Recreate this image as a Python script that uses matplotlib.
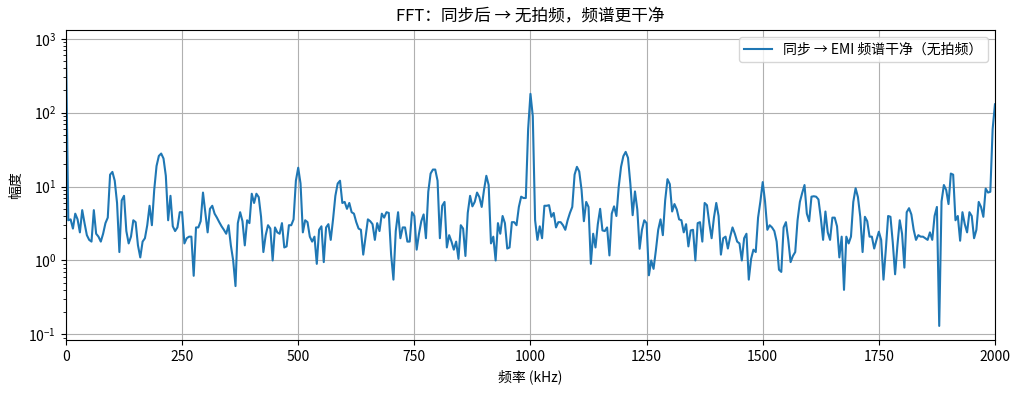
import numpy as np
import matplotlib
matplotlib.use('Agg')
import matplotlib.pyplot as plt

plt.rcParams['font.family'] = ['Noto Sans CJK SC', 'DejaVu Sans']
plt.rcParams['axes.unicode_minus'] = False

# frequency axis, 5 kHz bins from 0 to 2000 kHz
freq_khz = np.arange(0, 2001, 5)

# spectrum magnitude, one value per bin
amplitude = [
    850, 3.5, 3.6, 2.7, 4.3, 3.6, 2.4, 4.8, 3.2, 2.2,
    1.9, 1.8, 4.8, 2.3, 2.1, 1.8, 2.3, 3.2, 3.8, 14.5,
    15.8, 12, 6, 1.3, 6.5, 7.5, 2.5, 1.7, 2.1, 3.5,
    3.3, 1.6, 1.1, 1.8, 2.0, 3.0, 5.5, 3.0, 9, 19,
    26, 28, 24, 14, 3.5, 7.5, 2.9, 2.5, 2.8, 4.5,
    4.5, 1.7, 2.0, 2.1, 2.1, 0.62, 2.8, 2.8, 3.4, 8.3,
    4.5, 2.4, 5.0, 5.5, 4.3, 3.8, 3.3, 2.9, 2.6, 2.3,
    3.0, 1.6, 1.0, 0.45, 3.2, 4.5, 3.4, 1.6, 3.5, 3.2,
    8.0, 6.0, 8.0, 7.2, 3.9, 1.3, 2.2, 3.0, 2.7, 1.0,
    2.8, 2.4, 2.3, 3.2, 1.5, 1.55, 3.0, 3.0, 3.6, 12,
    18, 11, 2.4, 3.5, 3.3, 2.1, 1.8, 2.1, 0.9, 2.6,
    2.9, 0.95, 2.8, 3.1, 1.9, 3.6, 7.5, 11, 12, 6.0,
    6.2, 5.0, 6.0, 4.5, 4.3, 3.3, 2.7, 2.6, 1.2, 2.1,
    3.6, 3.4, 3.1, 1.9, 3.2, 2.5, 4.3, 3.8, 4.5, 4.4,
    1.2, 0.55, 2.5, 4.5, 2.0, 2.8, 2.8, 1.8, 1.8, 4.5,
    4.0, 1.4, 2.3, 3.4, 4.2, 2.0, 8.5, 15, 17, 17,
    12, 2.0, 5.5, 6.2, 1.5, 2.2, 1.8, 1.4, 1.8, 1.05,
    3.0, 2.7, 1.15, 4.4, 7.5, 5.4, 6.2, 8.3, 7.2, 5.3,
    9, 14, 10.5, 1.7, 2.1, 1.0, 3.2, 2.3, 4.0, 3.2,
    1.45, 1.5, 3.3, 3.3, 3.0, 5.3, 7.3, 7.0, 7.0, 60,
    180, 90, 3.5, 1.9, 2.9, 2.0, 5.5, 5.5, 5.6, 3.9,
    4.4, 2.8, 3.3, 3.3, 3.0, 2.6, 3.5, 4.4, 5.3, 14.5,
    18.5, 16, 9, 3.4, 6.2, 5.3, 0.9, 2.3, 1.5, 3.1,
    5.0, 2.55, 2.5, 2.8, 1.17, 4.3, 5.4, 4.0, 9.9, 18.5,
    25.8, 29.5, 24.5, 11, 4.1, 8.6, 4.9, 1.44, 2.6, 3.5,
    3.2, 0.63, 1.0, 0.77, 1.37, 2.6, 3.6, 2.2, 6.5, 12.6,
    10.8, 4.6, 5.8, 4.9, 3.6, 3.5, 2.4, 3.1, 1.55, 2.55,
    2.6, 1.0, 3.2, 3.3, 1.8, 6.0, 5.6, 3.2, 2.0, 3.8,
    6.0, 4.0, 1.2, 2.0, 2.1, 1.45, 2.1, 2.8, 2.3, 1.8,
    1.7, 1.0, 2.0, 2.3, 0.55, 1.05, 1.4, 1.3, 3.8, 6.3,
    11.5, 6.3, 2.6, 3.0, 2.8, 2.5, 1.8, 0.75, 0.7, 2.8,
    3.3, 1.9, 0.95, 1.15, 1.3, 3.5, 6.2, 8.2, 10.5, 4.3,
    3.4, 7.3, 7.4, 7.3, 6.7, 3.8, 1.9, 4.6, 2.4, 1.9,
    3.8, 3.8, 2.9, 1.1, 2.1, 0.4, 2.1, 1.7, 2.1, 6.2,
    9.5, 7.2, 3.9, 1.3, 3.9, 3.4, 2.1, 2.1, 1.45, 1.9,
    2.45, 1.9, 0.55, 1.4, 4.0, 3.9, 1.75, 0.65, 1.6, 3.5,
    2.3, 0.8, 4.5, 5.1, 4.2, 2.6, 1.9, 2.2, 2.1, 2.1,
    2.0, 1.9, 2.4, 1.9, 4.0, 5.3, 0.13, 6.3, 10.5, 9,
    5.8, 15, 14.5, 3.5, 4.0, 1.85, 4.5, 3.1, 2.4, 4.5,
    4.0, 2.0, 2.6, 6.2, 5.3, 3.9, 9.4, 8.3, 8.5, 60,
    130,
]

fig, ax = plt.subplots(figsize=(10.21, 3.94), dpi=100)
fig.subplots_adjust(left=0.0646, right=0.9745, top=0.924, bottom=0.137)

ax.semilogy(freq_khz, amplitude, color='tab:blue', lw=1.5, label='同步 → EMI 频谱干净（无拍频）')
ax.set_xlim(0, 2000)
ax.grid(True, color='#b0b0b0', lw=0.8)

ax.set_title('FFT：同步后 → 无拍频，频谱更干净', fontsize=12)
ax.set_xlabel('频率 (kHz)')
ax.set_ylabel('幅度')
ax.legend(loc='upper right')

fig.savefig('out.png', dpi=100)
